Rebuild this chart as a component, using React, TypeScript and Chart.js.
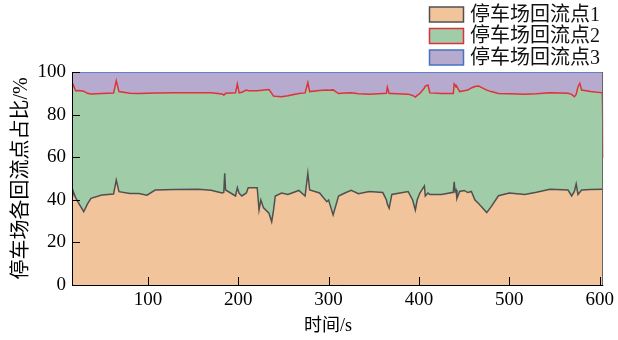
import React, { useEffect, useRef } from "react";
import { Chart, registerables } from "chart.js";

Chart.register(...registerables);

// time (s)
const times = [
  16, 17.5, 20, 24, 29, 33, 37, 49, 62, 65, 68, 80, 90, 99, 108, 130, 156, 170, 182, 184,
  185, 186, 197, 199, 201, 204, 209, 211, 221, 223, 225, 228, 234, 237, 239, 241, 248, 255, 267, 274,
  277, 279, 290, 298, 300, 305, 311, 318, 325, 333, 345, 360, 364, 365, 367, 370, 388, 393, 396, 398,
  401, 406, 407, 410, 412, 425, 438, 439, 440, 441, 442, 445, 450, 454, 458, 462, 466, 469, 475, 480,
  488, 500, 517, 530, 545, 565, 569, 572, 574, 576, 578, 580, 590, 603, 604,
];

// share of return point 1 (%)
const share1 = [
  40, 43.8, 41, 38, 34.4, 38, 40.7, 42.2, 42.7, 49.3, 43.8, 43, 43, 42.2, 44.6, 44.8, 44.9, 44.5, 43.2, 43.5,
  52.4, 44.6, 41.8, 45.7, 43, 41.8, 43.2, 45.7, 45.7, 35.2, 39.9, 36.2, 33.7, 29.7, 35, 41.8, 43.2, 42.5, 44.4, 41.8,
  52.4, 44.6, 43.2, 39.1, 39.9, 32.9, 41.8, 43.2, 44.4, 42.9, 43.9, 43.4, 39.9, 38, 36, 42.5, 43.9, 39.9, 35.2, 39.9,
  43.2, 46.5, 41.8, 43.2, 42.5, 42.5, 43.5, 48.5, 43.9, 44.6, 40.6, 43.9, 44.4, 43.4, 43.9, 39.9, 38.3, 36.8, 34, 36.8,
  41.9, 43.2, 42.5, 43.5, 45, 44.6, 41.8, 43.9, 47.4, 42.5, 43.5, 44.6, 44.8, 44.9, 44.9,
];

// share of return point 2 (%)
const share2 = [
  52.3, 50.1, 50.2, 53.3, 56.6, 52, 49, 47.7, 47.4, 46.6, 47, 47, 46.9, 47.8, 45.5, 45.4, 45.4, 45.7, 46.5, 45.7,
  37.1, 45.4, 48.4, 48.7, 47.2, 48.7, 48.3, 45.5, 45.5, 56.1, 51.4, 55.3, 58.1, 60.3, 53.7, 46.8, 45.2, 46.3, 45.5, 48.4,
  42.6, 46.2, 48.1, 52.4, 51.5, 58.7, 48.1, 46.9, 45.8, 46.9, 45.7, 46.5, 50.1, 54.8, 53.9, 47.4, 45.7, 49.1, 53, 49.1,
  46.7, 46, 51.6, 50.7, 47.7, 47.4, 46.4, 45.9, 50, 48.4, 52.5, 46.9, 46.8, 48.1, 48.6, 53.3, 55.1, 56, 57.5, 54,
  48, 46.6, 47.1, 46.3, 45.2, 45.4, 47.7, 44.5, 42.1, 50.5, 51.2, 46.9, 46, 45.3, 14.7,
];

// share of return point 3 (%)
const share3 = [
  7.7, 6.1, 8.8, 8.7, 9, 10, 10.3, 10.1, 9.9, 4.1, 9.2, 10, 10.1, 10, 9.9, 9.8, 9.7, 9.8, 10.3, 10.8,
  10.5, 10, 9.8, 5.6, 9.8, 9.5, 8.5, 8.8, 8.8, 8.7, 8.7, 8.5, 8.2, 10, 11.3, 11.4, 11.6, 11.2, 10.1, 9.8,
  5, 9.2, 8.7, 8.5, 8.6, 8.4, 10.1, 9.9, 9.8, 10.2, 10.4, 10.1, 10, 7.2, 10.1, 10.1, 10.4, 11, 11.8, 11,
  10.1, 7.5, 6.6, 6.1, 9.8, 10.1, 10.1, 5.6, 6.1, 7, 6.9, 9.2, 8.8, 8.5, 7.5, 6.8, 6.6, 7.2, 8.5, 9.2,
  10.1, 10.2, 10.4, 10.2, 9.8, 10, 10.5, 11.6, 10.5, 7, 5.3, 8.5, 9.2, 9.8, 40.4,
];

const seriesNames = ["停车场回流点1", "停车场回流点2", "停车场回流点3"];
const xTicks = [100, 200, 300, 400, 500, 600];
const yTicks = [0, 20, 40, 60, 80, 100];
const xTitle = "时间/s";
const yTitle = "停车场各回流点占比/%";

const FILLS = ["#F2C49C", "#A0CCA8", "#B6AACF"];
const LINES = ["#505050", "#E0303C", "#4472C4"];
const FONT = "'Liberation Serif', 'Noto Sans CJK SC', serif";

const framePlugin = {
  id: "frame",
  afterDatasetsDraw(chart: any) {
    const { ctx, chartArea: a, scales } = chart;
    ctx.save();
    ctx.strokeStyle = "#000";
    ctx.lineWidth = 1;
    ctx.beginPath();
    for (const v of yTicks) {
      const y = Math.round(scales.y.getPixelForValue(v)) + 0.5;
      ctx.moveTo(a.left, y);
      ctx.lineTo(a.left + 8, y);
    }
    for (const v of xTicks) {
      const x = Math.round(scales.x.getPixelForValue(v)) + 0.5;
      ctx.moveTo(x, a.bottom);
      ctx.lineTo(x, a.bottom - 8);
    }
    ctx.stroke();
    ctx.beginPath();
    ctx.moveTo(Math.round(a.left) + 0.5, a.top);
    ctx.lineTo(Math.round(a.left) + 0.5, Math.round(a.bottom) + 0.5);
    ctx.lineTo(a.right, Math.round(a.bottom) + 0.5);
    ctx.stroke();
    ctx.strokeStyle = "#666";
    ctx.beginPath();
    ctx.moveTo(Math.round(a.right) - 0.5, a.top);
    ctx.lineTo(Math.round(a.right) - 0.5, a.bottom);
    ctx.stroke();
    ctx.restore();
  },
  afterDraw(chart: any) {
    const { ctx } = chart;
    ctx.save();
    // x axis title
    ctx.font = `18px ${FONT}`;
    ctx.fillStyle = "#000";
    ctx.textAlign = "center";
    ctx.textBaseline = "middle";
    ctx.fillText(xTitle, 328, 326);
    // legend
    const boxX = 429.5;
    const boxW = 34;
    const boxH = 15;
    const rowY = [14.5, 36, 57.5];
    ctx.font = `20px ${FONT}`;
    ctx.textBaseline = "middle";
    ctx.textAlign = "left";
    chart.data.datasets.forEach((ds: any, i: number) => {
      const cy = rowY[i];
      ctx.fillStyle = ds.backgroundColor;
      ctx.fillRect(boxX, cy - boxH / 2, boxW, boxH);
      ctx.strokeStyle = ds.borderColor;
      ctx.lineWidth = 1.5;
      ctx.strokeRect(boxX, cy - boxH / 2, boxW, boxH);
      ctx.fillStyle = "#111";
      ctx.fillText(ds.label, 470, cy + 1);
    });
    ctx.restore();
  },
};

export default function App() {
  const ref = useRef<HTMLCanvasElement | null>(null);

  useEffect(() => {
    if (!ref.current) return;
    const shares = [share1, share2, share3];
    const chart = new Chart(ref.current, {
      type: "line",
      data: {
        datasets: shares.map((s, i) => ({
          label: seriesNames[i],
          data: times.map((t, k) => ({ x: t, y: s[k] })),
          backgroundColor: FILLS[i],
          borderColor: LINES[i],
          borderWidth: 1.5,
          pointRadius: 0,
          tension: 0,
          fill: i === 0 ? "origin" : "-1",
        })),
      },
      options: {
        animation: false,
        responsive: false,
        layout: { padding: { left: 0, right: 12, top: 72, bottom: 0 } },
        plugins: { legend: { display: false }, tooltip: { enabled: false } },
        scales: {
          x: {
            type: "linear",
            min: 16,
            max: 604,
            afterBuildTicks: (axis: any) => {
              axis.ticks = xTicks.map((v) => ({ value: v }));
            },
            afterFit: (axis: any) => {
              axis.height = 55;
            },
            grid: { display: false, drawTicks: false },
            border: { display: false },
            ticks: {
              autoSkip: false,
              maxRotation: 0,
              padding: 4,
              color: "#000",
              font: { family: FONT, size: 19 },
            },
            title: { display: false },
          },
          y: {
            stacked: true,
            min: 0,
            max: 100,
            afterBuildTicks: (axis: any) => {
              axis.ticks = yTicks.map((v) => ({ value: v }));
            },
            afterFit: (axis: any) => {
              axis.width = 72;
            },
            grid: { display: false, drawTicks: false },
            border: { display: false },
            ticks: {
              padding: 6,
              color: "#000",
              font: { family: FONT, size: 19 },
            },
            title: {
              display: true,
              text: yTitle,
              color: "#000",
              font: { family: FONT, size: 20 },
              padding: { top: 10, bottom: 0 },
            },
          },
        },
      },
      plugins: [framePlugin],
    });
    return () => chart.destroy();
  }, []);

  return (
    <div style={{ position: "absolute", left: 0, top: 0, width: 618, height: 340, background: "#fff" }}>
      <canvas ref={ref} width={618} height={340} style={{ display: "block" }} />
    </div>
  );
}
